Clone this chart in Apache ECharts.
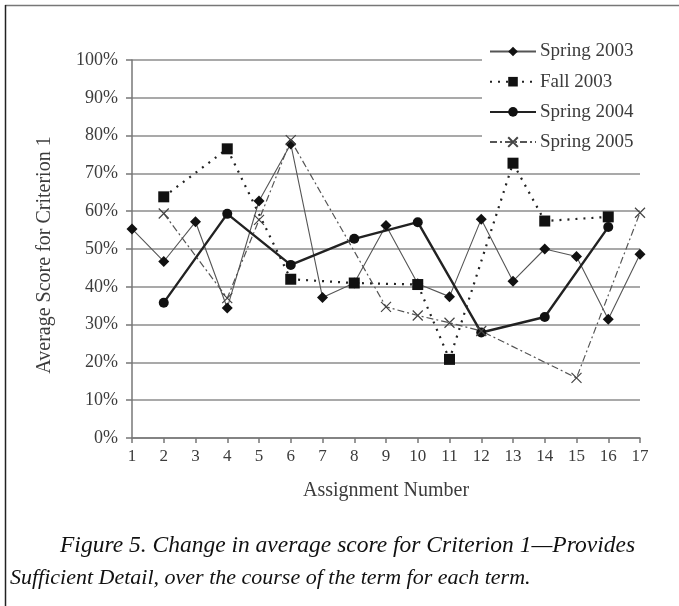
<!DOCTYPE html>
<html>
<head>
<meta charset="utf-8">
<script src="https://cdn.jsdelivr.net/npm/echarts@6/dist/echarts.min.js"></script>
<style>
html,body{margin:0;padding:0;background:#fff;}
#chart{width:679px;height:606px;}
</style>
</head>
<body>
<div id="chart"></div>
<script>
// ---- data ----
const categories = ['1','2','3','4','5','6','7','8','9','10','11','12','13','14','15','16','17'];
const spring2003 = [55.3, 46.7, 57.2, 34.4, 62.7, 77.8, 37.2, 41.0, 56.2, 40.8, 37.4, 57.9, 41.5, 50.0, 48.0, 31.4, 48.6];
const fall2003   = [null, 63.8, null, 76.5, null, 42.0, null, 41.0, null, 40.6, 20.8, null, 72.7, 57.4, null, 58.5, null];
const spring2004 = [null, 35.8, null, 59.3, null, 45.8, null, 52.7, null, 57.1, null, 27.9, null, 32.0, null, 55.8, null];
const spring2005 = [null, 59.4, null, 37.0, 57.7, 78.8, null, null, 34.7, 32.4, 30.5, 28.3, null, null, 15.9, null, 59.6];
const seriesNames = ['Spring 2003', 'Fall 2003', 'Spring 2004', 'Spring 2005'];
const yTicks = {min: 0, max: 100, interval: 10};
const xAxisTitle = 'Assignment Number';
const yAxisTitle = 'Average Score for Criterion 1';
const captionLines = [
  'Figure 5. Change in average score for Criterion 1\u2014Provides',
  'Sufficient Detail, over the course of the term for each term.'
];

const serif = '"Liberation Serif", "Times New Roman", serif';
const textCol = '#3c3c3c';
const chart = echarts.init(document.getElementById('chart'), null, {renderer: 'canvas'});

const xPath = 'path://M0,0L10,10M10,0L0,10';

chart.setOption({
  backgroundColor: '#fff',
  animation: false,
  grid: {left: 132, right: 39, top: 60, bottom: 168},
  legend: {
    orient: 'vertical',
    left: 482,
    top: 38,
    z: 1,
    backgroundColor: '#fff',
    padding: [4, 16, 2, 7],
    itemGap: 11.2,
    itemWidth: 46,
    itemHeight: 12,
    textStyle: {fontFamily: serif, fontSize: 19, color: textCol, padding: [0, 0, 0, -1]},
    data: seriesNames
  },
  xAxis: {
    type: 'category',
    data: categories,
    boundaryGap: false,
    name: xAxisTitle,
    nameLocation: 'middle',
    nameGap: 43,
    nameTextStyle: {fontFamily: serif, fontSize: 20, color: textCol},
    axisLine: {lineStyle: {color: '#777', width: 1.5}},
    axisTick: {show: true, length: 5, alignWithLabel: true, lineStyle: {color: '#777', width: 1.5}},
    axisLabel: {fontFamily: serif, fontSize: 17, color: textCol, margin: 10},
    splitLine: {show: false}
  },
  yAxis: {
    type: 'value',
    min: yTicks.min,
    max: yTicks.max,
    interval: yTicks.interval,
    name: yAxisTitle,
    nameLocation: 'middle',
    nameRotate: 90,
    nameGap: 77,
    nameTextStyle: {fontFamily: serif, fontSize: 20, color: textCol, padding: [0, 0, 0, -12]},
    axisLine: {show: true, lineStyle: {color: '#777', width: 1.5}},
    axisTick: {show: true, length: 6, lineStyle: {color: '#777', width: 1.5}},
    axisLabel: {fontFamily: serif, fontSize: 18, color: textCol, margin: 14, formatter: '{value}%'},
    splitLine: {show: true, lineStyle: {color: '#8c8c8c', width: 1.6}}
  },
  series: [
    {
      name: seriesNames[0], type: 'line', data: spring2003, connectNulls: true,
      symbol: 'diamond', symbolSize: 11, z: 3,
      lineStyle: {color: '#555', width: 1.1},
      itemStyle: {color: '#111', borderWidth: 0}
    },
    {
      name: seriesNames[1], type: 'line', data: fall2003, connectNulls: true,
      symbol: 'rect', symbolSize: 11, z: 3,
      lineStyle: {color: '#222', width: 2.2, type: [2, 6]},
      itemStyle: {color: '#111', borderWidth: 0}
    },
    {
      name: seriesNames[2], type: 'line', data: spring2004, connectNulls: true,
      symbol: 'circle', symbolSize: 10, z: 3,
      lineStyle: {color: '#222', width: 2.4},
      itemStyle: {color: '#111', borderWidth: 0}
    },
    {
      name: seriesNames[3], type: 'line', data: spring2005, connectNulls: true,
      symbol: xPath, symbolSize: 10, z: 3,
      lineStyle: {color: '#555', width: 1.2, type: [7, 3, 2, 3]},
      itemStyle: {color: 'none', borderColor: '#444', borderWidth: 1.2}
    }
  ],
  graphic: [
    {type: 'line', shape: {x1: 5, y1: 5.5, x2: 679, y2: 5.5}, style: {stroke: '#777', lineWidth: 1.5}, silent: true},
    {type: 'line', shape: {x1: 5.5, y1: 5, x2: 5.5, y2: 606}, style: {stroke: '#222', lineWidth: 1.5}, silent: true},
    {type: 'text', left: 60, top: 534, style: {text: captionLines[0], font: 'italic 23.5px ' + serif, fill: '#111'}, silent: true},
    {type: 'text', left: 10, top: 567, style: {text: captionLines[1], font: 'italic 22px ' + serif, fill: '#111'}, silent: true}
  ]
});
</script>
</body>
</html>
